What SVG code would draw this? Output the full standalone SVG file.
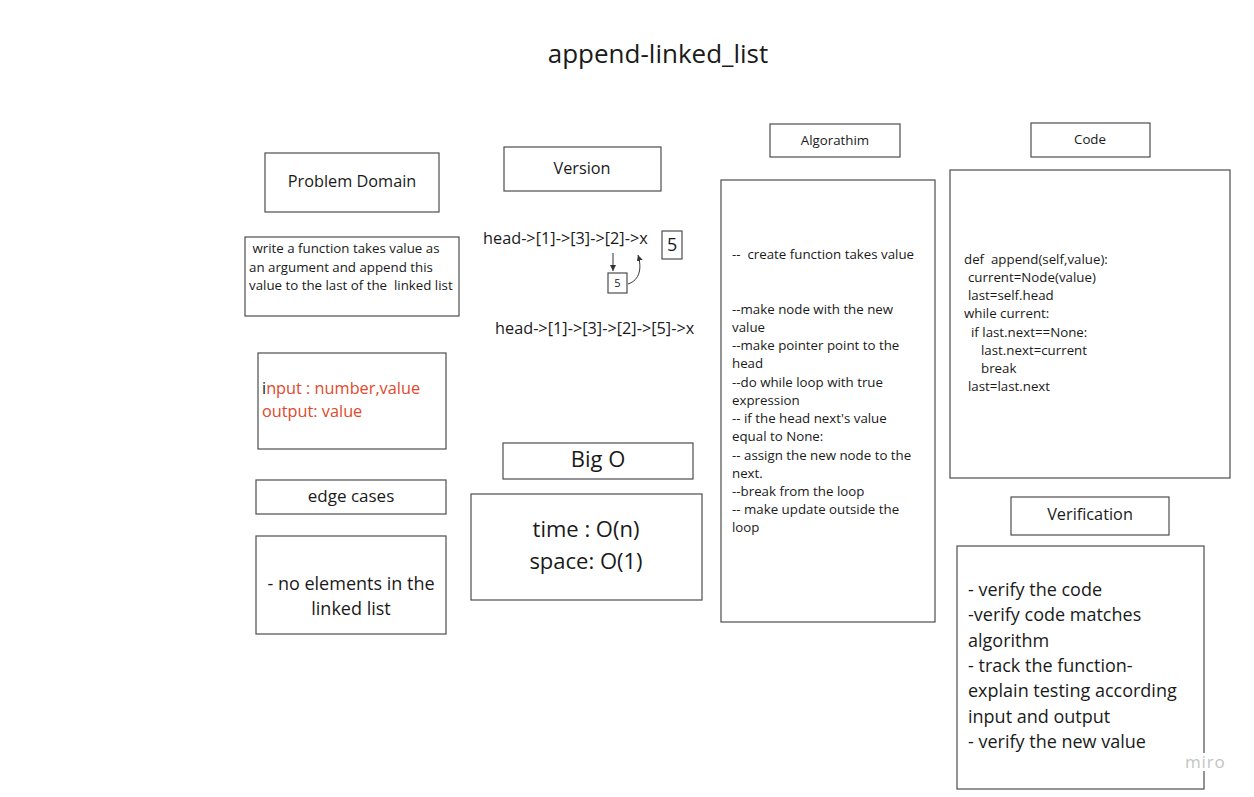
<svg xmlns="http://www.w3.org/2000/svg" width="1254" height="797" viewBox="0 0 1254 797">
<defs>
<style>
text{font-family:"Open Sans","Noto Sans","DejaVu Sans",sans-serif;fill:#1a1a1a;white-space:pre}
.box{fill:#fff;stroke:#4d4d4d;stroke-width:1.2}
.c{text-anchor:middle}
.s13{font-size:13.3px}
.s16{font-size:16.3px}
.s18{font-size:18px}
.s22{font-size:22px}
.red{fill:#e0492b}
.conn{fill:none;stroke:#333;stroke-width:1}
</style>
<marker id="ah" markerWidth="8" markerHeight="8" refX="6" refY="3" orient="auto" markerUnits="userSpaceOnUse">
<path d="M0,0 L6,3 L0,6 z" fill="#333"/>
</marker>
</defs>
<rect width="1254" height="797" fill="#fff"/>
<text x="658" y="63" class="c" font-size="26">append-linked_list</text>

<g id="problem-domain">
<rect class="box" x="265" y="153" width="174" height="59"/>
<text x="352" y="187" class="c s16">Problem Domain</text>
</g>
<g id="problem-statement">
<rect class="box" x="245" y="237" width="214" height="79"/>
<text class="s13" xml:space="preserve"><tspan x="249" y="253"> write a function takes value as</tspan><tspan x="249" y="272">an argument and append this</tspan><tspan x="249" y="290">value to the last of the  linked list</tspan></text>
</g>
<g id="input-output">
<rect class="box" x="258" y="353" width="188" height="96"/>
<text class="s16"><tspan x="262" y="394">i</tspan><tspan class="red">nput : number,value</tspan><tspan x="262" y="417" class="red">output: value</tspan></text>
</g>
<g id="edge-cases">
<rect class="box" x="256" y="480" width="190" height="34"/>
<text x="351" y="502" class="c" font-size="17">edge cases</text>
</g>
<g id="edge-content">
<rect class="box" x="256" y="536" width="190" height="98"/>
<text class="c s18"><tspan x="351" y="590">- no elements in the</tspan><tspan x="351" y="615">linked list</tspan></text>
</g>

<g id="version">
<rect class="box" x="504" y="147" width="157" height="44"/>
<text x="582" y="174" class="c s16">Version</text>
</g>
<g id="list-before">
<text x="483" y="244" class="s16">head-&gt;[1]-&gt;[3]-&gt;[2]-&gt;x</text>
</g>
<g id="new-node-big">
<rect class="box" x="662" y="231" width="20" height="28"/>
<text x="667" y="251" class="s18">5</text>
</g>
<g id="new-node-small">
<rect class="box" x="608" y="273" width="19" height="20"/>
<text x="617.5" y="287" class="c" font-size="11">5</text>
</g>
<g id="connectors">
<path class="conn" d="M613,253 L613,271" marker-end="url(#ah)"/>
<path class="conn" d="M628,284 C640,280 642,268 638,255" marker-end="url(#ah)"/>
</g>
<g id="list-after">
<text x="495" y="334" class="s16">head-&gt;[1]-&gt;[3]-&gt;[2]-&gt;[5]-&gt;x</text>
</g>
<g id="big-o">
<rect class="box" x="503" y="443" width="190" height="36"/>
<text x="598" y="467" class="c s22">Big O</text>
</g>
<g id="big-o-content">
<rect class="box" x="471" y="494" width="231" height="106"/>
<text class="c s22"><tspan x="586" y="537">time : O(n)</tspan><tspan x="586" y="569">space: O(1)</tspan></text>
</g>

<g id="algorithm">
<rect class="box" x="770" y="124" width="130" height="33"/>
<text x="835" y="145" class="c s13">Algorathim</text>
</g>
<g id="algorithm-content">
<rect class="box" x="721" y="180" width="214" height="442"/>
<text class="s13" xml:space="preserve"><tspan x="732" y="259">--  create function takes value</tspan><tspan x="732" y="314">--make node with the new</tspan><tspan x="732" y="332">value</tspan><tspan x="732" y="350">--make pointer point to the</tspan><tspan x="732" y="368">head</tspan><tspan x="732" y="387">--do while loop with true</tspan><tspan x="732" y="405">expression</tspan><tspan x="732" y="423">-- if the head next's value</tspan><tspan x="732" y="441">equal to None:</tspan><tspan x="732" y="460">-- assign the new node to the</tspan><tspan x="732" y="478">next.</tspan><tspan x="732" y="496">--break from the loop</tspan><tspan x="732" y="514">-- make update outside the</tspan><tspan x="732" y="532">loop</tspan></text>
</g>

<g id="code">
<rect class="box" x="1031" y="123" width="119" height="34"/>
<text x="1090" y="144" class="c s13">Code</text>
</g>
<g id="code-content">
<rect class="box" x="950" y="170" width="280" height="308"/>
<text class="s13" xml:space="preserve"><tspan x="964" y="264">def  append(self,value):</tspan><tspan x="968" y="282">current=Node(value)</tspan><tspan x="968" y="300">last=self.head</tspan><tspan x="964" y="318">while current:</tspan><tspan x="971" y="337">if last.next==None:</tspan><tspan x="981" y="355">last.next=current</tspan><tspan x="981" y="373">break</tspan><tspan x="968" y="391">last=last.next</tspan></text>
</g>

<g id="verification">
<rect class="box" x="1011" y="497" width="158" height="38"/>
<text x="1090" y="520" class="c s16">Verification</text>
</g>
<g id="verification-content">
<rect class="box" x="957" y="546" width="247" height="243"/>
<text class="s18"><tspan x="968" y="596">- verify the code</tspan><tspan x="968" y="621">-verify code matches</tspan><tspan x="968" y="647">algorithm</tspan><tspan x="968" y="672">- track the function-</tspan><tspan x="968" y="697">explain testing according</tspan><tspan x="968" y="723">input and output</tspan><tspan x="968" y="748">- verify the new value</tspan></text>
</g>
<g id="watermark">
<rect x="1183" y="753" width="44" height="18" fill="#fff"/>
<text x="1185" y="768" font-size="17" style="fill:#c4c4c4" letter-spacing="0.8">miro</text>
</g>
</svg>
